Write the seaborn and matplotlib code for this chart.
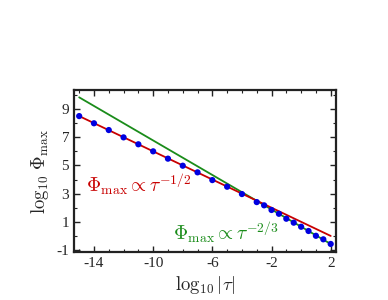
import matplotlib
matplotlib.use("Agg")
import matplotlib.pyplot as plt
import seaborn as sns
import pandas as pd
from matplotlib.ticker import MultipleLocator

# data (log10 |tau|, log10 Phi_max)
log_tau = [-15, -14, -13, -12, -11, -10, -9, -8, -7, -6, -5, -4, -3,
           -2.5, -2, -1.5, -1, -0.5, 0, 0.5, 1, 1.5, 2]
log_phi = [8.50, 7.99, 7.51, 6.99, 6.50, 6.00, 5.48, 4.98, 4.51, 3.96, 3.49, 2.97, 2.40,
           2.17, 1.84, 1.57, 1.22, 0.94, 0.65, 0.35, 0.01, -0.24, -0.57]

# power-law guide lines (endpoints)
fit_x = [-15, 2]
red_y = [8.5, 0.0]
green_y = [9.83, -0.57]

xticks = [-14, -10, -6, -2, 2]
yticks = [-1, 1, 3, 5, 7, 9]

sns.set_style("ticks")
plt.rcParams['font.family'] = ['Liberation Serif', 'DejaVu Serif']
plt.rcParams['mathtext.fontset'] = 'cm'
plt.rcParams['axes.unicode_minus'] = False

fig = plt.figure(figsize=(3.88, 3.0), dpi=100)
ax = fig.add_axes([0.1907, 0.16, 0.675, 0.54])

red = '#c80000'
green = '#1a8c1a'
blue = '#0000e0'

sns.lineplot(x=fit_x, y=green_y, ax=ax, color=green, lw=1.3)
sns.lineplot(x=fit_x, y=red_y, ax=ax, color=red, lw=1.3)
sns.scatterplot(x=log_tau, y=log_phi, ax=ax, color=blue, s=20, edgecolor='none', zorder=5)

ax.set_xlim(-15.35, 2.35)
ax.set_ylim(-1.14, 10.35)
ax.set_xticks(xticks)
ax.set_yticks(yticks)
ax.set_xticklabels([str(v) for v in xticks])
ax.set_yticklabels([str(v) for v in yticks])
ax.xaxis.set_minor_locator(MultipleLocator(1))
ax.yaxis.set_minor_locator(MultipleLocator(1))
ax.tick_params(which='both', direction='in', top=True, right=True, labelsize=11, color='#222222')
ax.tick_params(which='major', length=4, width=1)
ax.tick_params(which='minor', length=2, width=0.8)
for sp in ax.spines.values():
    sp.set_visible(True)
    sp.set_linewidth(1.6)
    sp.set_color('#222222')

ax.set_xlabel(r'$\log_{10}|\tau|$', fontsize=13.5, labelpad=3)
ax.set_ylabel(r'$\log_{10}\,\Phi_{\max}$', fontsize=13.5, labelpad=4)

ax.text(-14.55, 3.11, r'$\Phi_{\max}\propto\tau^{-1/2}$', color=red, fontsize=14)
ax.text(-8.67, -0.29, r'$\Phi_{\max}\propto\tau^{-2/3}$', color=green, fontsize=14)

fig.savefig('out.png', dpi=100)
